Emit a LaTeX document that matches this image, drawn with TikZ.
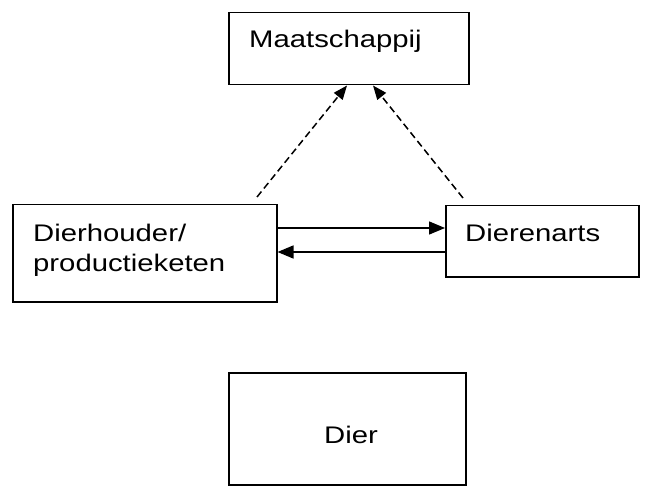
\documentclass[tikz,border=0pt]{standalone}
\usepackage{fontspec}
\setmainfont{Liberation Sans}[FakeStretch=1.22]
\usetikzlibrary{arrows.meta}
\begin{document}
\begin{tikzpicture}[x=1pt,y=-1pt,
  box/.style={draw, line width=1.5pt, rectangle, inner sep=0pt, anchor=north west},
  lbl/.style={anchor=base west, inner sep=0pt, font=\fontsize{24}{29}\selectfont, align=left},
  solidarrow/.style={line width=1.5pt, -{Triangle[length=16pt,width=13pt]}},
  dasharrow/.style={line width=1.5pt, dash pattern=on 7pt off 4pt, -{Triangle[length=14pt,width=11pt]}}]
\useasboundingbox (0,0) rectangle (650,486);
% boxes
\node[box, minimum width=240pt, minimum height=72pt] (m) at (228,12) {};
\node[box, minimum width=264pt, minimum height=97pt] (dh) at (12,204) {};
\node[box, minimum width=193pt, minimum height=71pt] (da) at (445,205) {};
\node[box, minimum width=237pt, minimum height=112pt] (d) at (228,372) {};
% labels
\node[lbl] (tm) at (249,48) {Maatschappij};
\node[lbl] (tdh1) at (33,242) {Dierhouder/};
\node[lbl] (tdh2) at (33,271) {productieketen};
\node[lbl] (tda) at (465,242) {Dierenarts};
\node[lbl] (td) at (324,443) {Dier};
% connectors
\draw[solidarrow] (dh.east |- 0,228) -- (da.west |- 0,228);
\draw[solidarrow] (da.west |- 0,252) -- (dh.east |- 0,252);
\coordinate (s1) at (257,197);
\coordinate (s2) at (463,198);
\draw[dasharrow] (s1) -- (347,0 |- m.south);
\draw[dasharrow] (s2) -- (373,0 |- m.south);
\end{tikzpicture}
\end{document}
